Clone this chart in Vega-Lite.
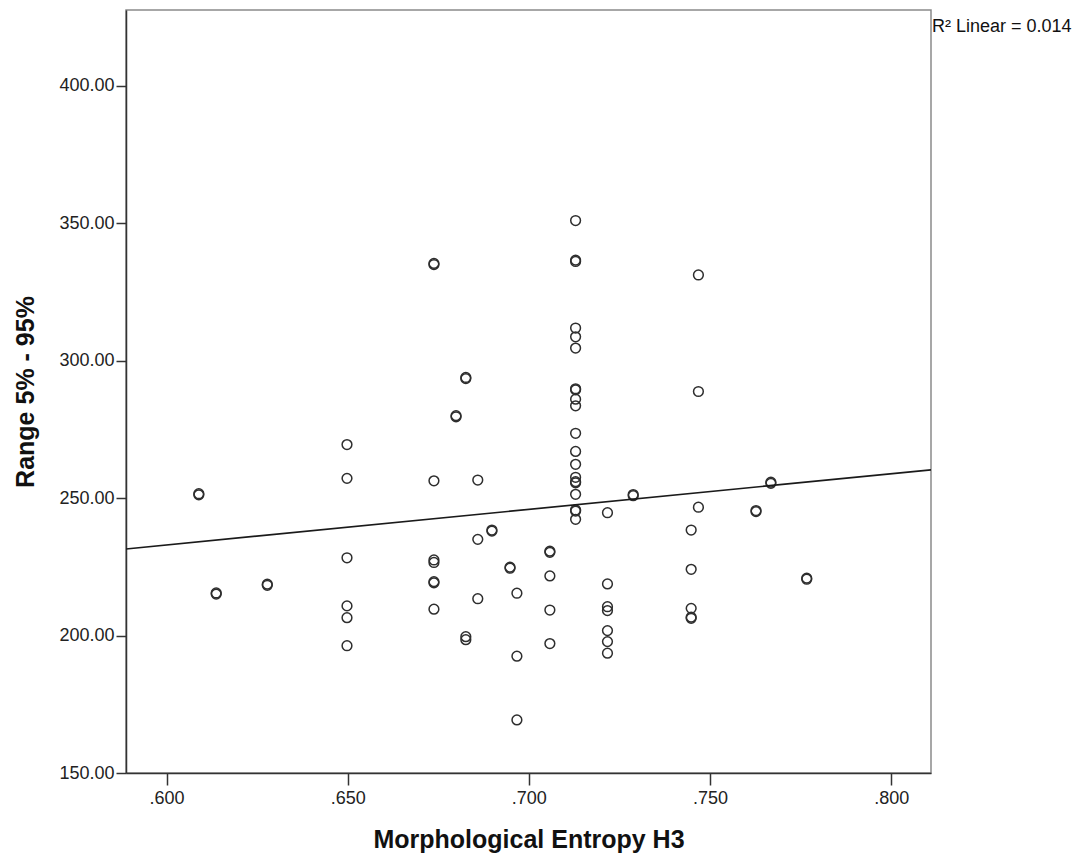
{
  "$schema": "https://vega.github.io/schema/vega-lite/v6.json",
  "width": 805,
  "height": 763,
  "autosize": {"type": "none"},
  "padding": {"left": 126, "top": 10, "right": 161, "bottom": 81},
  "background": "white",
  "config": {
    "font": "Liberation Sans",
    "view": {"stroke": "#8a8a8a", "strokeWidth": 1.5},
    "axis": {
      "grid": false,
      "domainColor": "#333333",
      "domainWidth": 1.5,
      "tickColor": "#333333",
      "tickWidth": 1.5,
      "labelColor": "#222222",
      "labelFont": "Liberation Sans",
      "labelFontSize": 18,
      "titleFont": "Liberation Sans",
      "titleFontWeight": "bold",
      "titleColor": "#111111"
    }
  },
  "datasets": {
    "pts": [
      {"h3": 0.6089, "range": 251.2}, {"h3": 0.6089, "range": 251.6},
      {"h3": 0.6137, "range": 215.1}, {"h3": 0.6137, "range": 215.5},
      {"h3": 0.6278, "range": 218.3}, {"h3": 0.6278, "range": 218.7},
      {"h3": 0.6498, "range": 269.5}, {"h3": 0.6498, "range": 257.2}, {"h3": 0.6498, "range": 228.3},
      {"h3": 0.6498, "range": 210.8}, {"h3": 0.6498, "range": 206.5}, {"h3": 0.6498, "range": 196.3},
      {"h3": 0.6738, "range": 335.0}, {"h3": 0.6738, "range": 335.4}, {"h3": 0.6738, "range": 256.3},
      {"h3": 0.6738, "range": 227.5}, {"h3": 0.6738, "range": 226.6}, {"h3": 0.6738, "range": 219.2},
      {"h3": 0.6738, "range": 219.6}, {"h3": 0.6738, "range": 209.6},
      {"h3": 0.6799, "range": 279.6}, {"h3": 0.6799, "range": 280.0},
      {"h3": 0.6826, "range": 293.5}, {"h3": 0.6826, "range": 293.9},
      {"h3": 0.6826, "range": 199.6}, {"h3": 0.6826, "range": 198.5},
      {"h3": 0.6859, "range": 256.6}, {"h3": 0.6859, "range": 235.0}, {"h3": 0.6859, "range": 213.4},
      {"h3": 0.6898, "range": 238.0}, {"h3": 0.6898, "range": 238.4},
      {"h3": 0.6948, "range": 224.5}, {"h3": 0.6948, "range": 224.9},
      {"h3": 0.6967, "range": 215.4}, {"h3": 0.6967, "range": 192.5}, {"h3": 0.6967, "range": 169.3},
      {"h3": 0.7058, "range": 230.3}, {"h3": 0.7058, "range": 230.7}, {"h3": 0.7058, "range": 221.7},
      {"h3": 0.7058, "range": 209.3}, {"h3": 0.7058, "range": 197.1},
      {"h3": 0.7129, "range": 351.0}, {"h3": 0.7129, "range": 336.1}, {"h3": 0.7129, "range": 336.6},
      {"h3": 0.7129, "range": 311.9}, {"h3": 0.7129, "range": 308.7}, {"h3": 0.7129, "range": 304.6},
      {"h3": 0.7129, "range": 289.4}, {"h3": 0.7129, "range": 289.8}, {"h3": 0.7129, "range": 286.0},
      {"h3": 0.7129, "range": 283.6}, {"h3": 0.7129, "range": 273.6}, {"h3": 0.7129, "range": 267.0},
      {"h3": 0.7129, "range": 262.3}, {"h3": 0.7129, "range": 257.6}, {"h3": 0.7129, "range": 255.6},
      {"h3": 0.7129, "range": 256.0}, {"h3": 0.7129, "range": 251.4}, {"h3": 0.7129, "range": 245.3},
      {"h3": 0.7129, "range": 245.7}, {"h3": 0.7129, "range": 242.3},
      {"h3": 0.7217, "range": 244.7}, {"h3": 0.7217, "range": 218.8}, {"h3": 0.7217, "range": 210.5},
      {"h3": 0.7217, "range": 209.1}, {"h3": 0.7217, "range": 201.8}, {"h3": 0.7217, "range": 197.8},
      {"h3": 0.7217, "range": 193.6},
      {"h3": 0.7288, "range": 250.9}, {"h3": 0.7288, "range": 251.3},
      {"h3": 0.7448, "range": 238.4}, {"h3": 0.7448, "range": 224.1}, {"h3": 0.7448, "range": 209.9},
      {"h3": 0.7448, "range": 206.3}, {"h3": 0.7448, "range": 206.7},
      {"h3": 0.7468, "range": 331.2}, {"h3": 0.7468, "range": 288.8}, {"h3": 0.7468, "range": 246.7},
      {"h3": 0.7627, "range": 245.1}, {"h3": 0.7627, "range": 245.5},
      {"h3": 0.7668, "range": 255.4}, {"h3": 0.7668, "range": 255.8},
      {"h3": 0.7767, "range": 220.5}, {"h3": 0.7767, "range": 220.9}
    ],
    "fit": [
      {"h3": 0.5888, "range": 231.5},
      {"h3": 0.8110, "range": 260.3}
    ],
    "note": [
      {"label": "R² Linear = 0.014", "h3": 0.8110, "range": 419.6}
    ]
  },
  "layer": [
    {
      "data": {"name": "pts"},
      "mark": {"type": "point", "shape": "circle", "filled": false, "size": 95, "stroke": "#2e2e2e", "strokeWidth": 1.5, "opacity": 1},
      "encoding": {
        "x": {
          "field": "h3", "type": "quantitative",
          "scale": {"domain": [0.5888, 0.8110], "nice": false, "zero": false},
          "axis": {
            "title": "Morphological Entropy H3",
            "titleFontSize": 25,
            "values": [0.6, 0.65, 0.7, 0.75, 0.8],
            "labelExpr": "substring(format(datum.value, '.3f'), 1)",
            "tickSize": 12,
            "labelPadding": 4,
            "titlePadding": 20
          }
        },
        "y": {
          "field": "range", "type": "quantitative",
          "scale": {"domain": [150, 427.6], "nice": false, "zero": false},
          "axis": {
            "title": "Range 5% - 95%",
            "titleFontSize": 25,
            "values": [150, 200, 250, 300, 350, 400],
            "format": ".2f",
            "tickSize": 10,
            "labelPadding": 2,
            "titlePadding": 20
          }
        }
      }
    },
    {
      "data": {"name": "fit"},
      "mark": {"type": "line", "color": "#1a1a1a", "strokeWidth": 1.7},
      "encoding": {
        "x": {"field": "h3", "type": "quantitative"},
        "y": {"field": "range", "type": "quantitative"}
      }
    },
    {
      "data": {"name": "note"},
      "mark": {"type": "text", "align": "left", "baseline": "alphabetic", "dx": 1, "fontSize": 18, "font": "Liberation Sans", "color": "#111111", "clip": false},
      "encoding": {
        "x": {"field": "h3", "type": "quantitative"},
        "y": {"field": "range", "type": "quantitative"},
        "text": {"field": "label"}
      }
    }
  ]
}
